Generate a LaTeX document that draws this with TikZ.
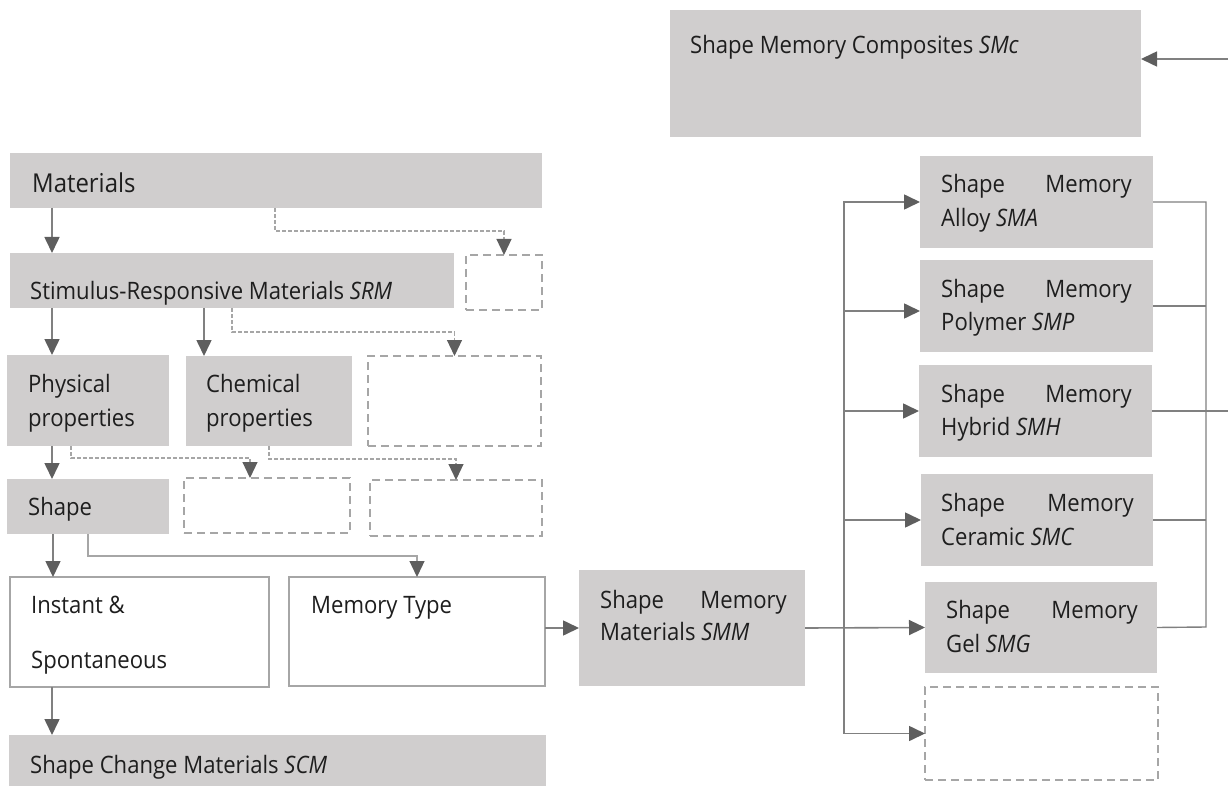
\documentclass[tikz,border=0pt]{standalone}
\usepackage{fontspec}
\setmainfont{Open Sans}[FakeStretch=0.92]
\usetikzlibrary{arrows.meta}
\definecolor{boxgray}{HTML}{D0CECE}
\definecolor{linegray}{HTML}{808080}
\definecolor{dashgray}{HTML}{A6A6A6}
\definecolor{headgray}{HTML}{5E5E5E}
\definecolor{txtcol}{HTML}{1E1E1E}
\tikzset{
 fbox/.style={fill=boxgray, draw=none},
 wbox/.style={draw=dashgray, line width=1.6pt, fill=white},
 dbox/.style={draw=dashgray, line width=1.6pt, dash pattern=on 8pt off 5pt},
 conn/.style={draw=linegray, line width=1.6pt, -{Triangle[length=16pt,width=15pt,color=headgray]}},
 lconn/.style={draw=dashgray, line width=1.3pt, -{Triangle[length=16pt,width=15pt,color=headgray]}},
 dconn/.style={draw=dashgray, line width=1.2pt, dash pattern=on 4pt off 2pt, -{Triangle[length=16pt,width=15pt,color=headgray]}},
 plain/.style={draw=linegray, line width=1.4pt},
 txt/.style={inner sep=0pt, anchor=base west, text=txtcol, font=\fontsize{24}{29}\selectfont},
 txtr/.style={txt, anchor=base east},
}
\newcommand\bx[6]{\node[#6, inner sep=0pt, outer sep=0pt, minimum width={(#4)-(#2)}, minimum height={(#5)-(#3)}] (#1) at ({((#2)+(#4))/2},{((#3)+(#5))/2}) {};}
\begin{document}
\begin{tikzpicture}[x=1pt,y=-1pt]
\useasboundingbox (0,0) rectangle (1228,786);
% boxes
\bx{mat}{10}{153}{542}{208}{fbox}
\bx{srm}{10}{253}{454}{308}{fbox}
\bx{d1}{466}{255}{542}{310}{dbox}
\bx{phy}{7}{355}{169}{446}{fbox}
\bx{che}{186}{356}{352}{446}{fbox}
\bx{d2}{368}{356}{541}{446}{dbox}
\bx{shp}{7}{479}{169}{534}{fbox}
\bx{d3}{184}{478}{350}{533}{dbox}
\bx{d4}{370}{480}{542}{536}{dbox}
\bx{ins}{10}{577}{269}{687}{wbox}
\bx{mem}{289}{577}{545}{686}{wbox}
\bx{scm}{9}{735}{546}{786}{fbox}
\bx{smm}{579}{570}{805}{686}{fbox}
\bx{smcomp}{670}{10}{1141}{137}{fbox}
\bx{sma}{920}{156}{1153}{248}{fbox}
\bx{smp}{920}{260}{1153}{352}{fbox}
\bx{smh}{919}{365}{1152}{457}{fbox}
\bx{smcer}{921}{474}{1153}{566}{fbox}
\bx{smg}{925}{582}{1157}{673}{fbox}
\bx{d5}{925}{687}{1158}{780}{dbox}
% texts
\node[txt, font=\fontsize{26}{31}\selectfont] (tmat) at (32,193) {Materials};
\node[txt] (tsrm) at (30,299) {Stimulus-Responsive Materials \textit{SRM}};
\node[txt] (tphy1) at (28,392) {Physical};
\node[txt] (tphy2) at (28,426) {properties};
\node[txt] (tche1) at (206,392) {Chemical};
\node[txt] (tche2) at (206,426) {properties};
\node[txt] (tshp) at (28,515) {Shape};
\node[txt] (tins1) at (31,613) {Instant \&};
\node[txt] (tins2) at (31,668) {Spontaneous};
\node[txt] (tmem) at (311,613) {Memory Type};
\node[txt] (tscm) at (30,773) {Shape Change Materials \textit{SCM}};
\node[txt] (tcomp) at (690,54) {Shape Memory Composites \textit{SMc}};
\node[txt] (ta1) at (941,193) {Shape};
\node[txtr] (ta2) at (1132,193) {Memory};
\node[txt] (ta3) at (941,227) {Alloy \textit{SMA}};
\node[txt] (tp1) at (941,297) {Shape};
\node[txtr] (tp2) at (1132,297) {Memory};
\node[txt] (tp3) at (941,330) {Polymer \textit{SMP}};
\node[txt] (th1) at (941,402) {Shape};
\node[txtr] (th2) at (1132,402) {Memory};
\node[txt] (th3) at (941,435) {Hybrid \textit{SMH}};
\node[txt] (tc1) at (941,511) {Shape};
\node[txtr] (tc2) at (1134,511) {Memory};
\node[txt] (tc3) at (941,545) {Ceramic \textit{SMC}};
\node[txt] (tg1) at (946,618) {Shape};
\node[txtr] (tg2) at (1138,618) {Memory};
\node[txt] (tg3) at (946,652) {Gel \textit{SMG}};
\node[txt] (tm1) at (600,608) {Shape};
\node[txtr] (tm2) at (787,608) {Memory};
\node[txt] (tm3) at (600,640) {Materials \textit{SMM}};
% left connectors
\draw[conn] ([xshift=42pt]mat.south west) -- ([xshift=42pt]srm.north west);
\draw[dconn] ([xshift=265pt]mat.south west) -- ++(0,23) -| (d1.north);
\draw[conn] ([xshift=42pt]srm.south west) -- ([xshift=45pt]phy.north west);
\draw[conn] ([xshift=194pt]srm.south west) -- ([xshift=18pt]che.north west);
\draw[dconn] ([xshift=222pt]srm.south west) -- ++(0,24) -| (d2.north);
\draw[conn] ([xshift=45pt]phy.south west) -- ([xshift=45pt]shp.north west);
\draw[dconn] ([xshift=64pt]phy.south west) -- ++(0,12) -| ([xshift=66pt]d3.north west);
\draw[dconn] ([xshift=83pt]che.south west) -- ++(0,13) -| (d4.north);
\draw[conn] ([xshift=46pt]shp.south west) -- ([xshift=43pt]ins.north west);
\draw[lconn] ([xshift=81pt]shp.south west) -- ++(0,22) -| (mem.north);
\draw[conn] ([xshift=42pt]ins.south west) -- ([xshift=43pt]scm.north west);
\draw[conn] (smm.west -| mem.east) -- (smm.west);
% right connectors
\draw[conn] (smm.east) -- (smg.west);
\coordinate (tk) at (844,628);
\draw[conn] (tk) |- (sma.west);
\draw[conn] (tk) |- (d5.west);
\coordinate (pin) at ([yshift=-5pt]smp.west);
\draw[conn] (pin -| tk) -- (pin);
\draw[conn] (tk |- smh.west) -- (smh.west);
\draw[conn] (tk |- smcer.west) -- (smcer.west);
\coordinate (rx) at (1206,627);
\draw[plain] (sma.east) -| (rx) -- (smg.east);
\draw[plain] (smp.east) -- (smp.east -| rx);
\draw[plain] (smcer.east) -- (smcer.east -| rx);
\coordinate (edgeR) at (1228,411);
\draw[plain] (smh.east) -- (edgeR);
\coordinate (edgeT) at (1228,59);
\draw[conn] (edgeT) -- (edgeT -| smcomp.east);
\end{tikzpicture}
\end{document}
